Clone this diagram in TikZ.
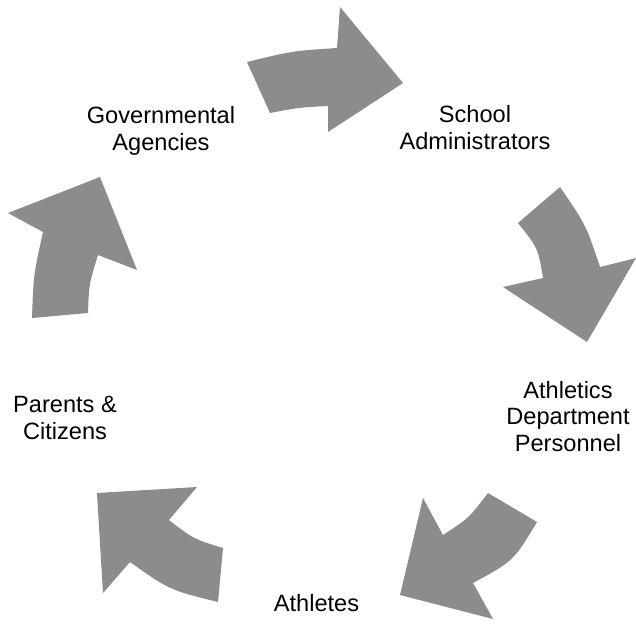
\documentclass[tikz,border=0pt]{standalone}
\usepackage{fontspec}
\setmainfont{Liberation Sans}
\definecolor{arrowgray}{RGB}{140,140,140}
\begin{document}
\begin{tikzpicture}[x=1pt,y=-1pt,
  blockarrow/.style={fill=arrowgray,draw=none},
  label/.style={align=center,inner sep=0pt,anchor=base,font=\fontsize{23.6}{26.7}\selectfont}]
\useasboundingbox (0,0) rectangle (636,623);
% arrows
\path[blockarrow] (247,62) .. controls (292,51) .. (337,48) -- (340,7) -- (403,83) -- (328,132) -- (328,106) .. controls (299,107.5) .. (270,113) -- cycle;
\path[blockarrow] (518,223) -- (560,187) .. controls (586,225) .. (600,267) -- (636,258) -- (587,342) -- (503,287) -- (543,278) .. controls (538,248) .. (518,223) -- cycle;
\path[blockarrow] (488,493) -- (537,522) .. controls (513.5,561) .. (473,583) -- (493,619) -- (400,595) -- (423,498) -- (443,535) .. controls (469,518) .. (488,493) -- cycle;
\path[blockarrow] (223,548) -- (218,602) .. controls (169.5,590) .. (130,562) -- (103,593) -- (97,493) -- (197,487) -- (169,520) .. controls (193.5,539) .. (223,548) -- cycle;
\path[blockarrow] (32,318) -- (88,313) .. controls (89,284) .. (98,255) -- (137,270) -- (100,177) -- (8,213) -- (43,232) .. controls (33.5,275) .. (32,318) -- cycle;
% labels
\node[label] (gov) at (161,150) {Governmental\\Agencies};
\node[label] (school) at (475,149) {School\\Administrators};
\node[label] (ath) at (568,451.5) {Athletics\\Department\\Personnel};
\node[label] (athletes) at (316.5,611) {Athletes};
\node[label] (parents) at (65,439.5) {Parents \&\\Citizens};
\end{tikzpicture}
\end{document}
